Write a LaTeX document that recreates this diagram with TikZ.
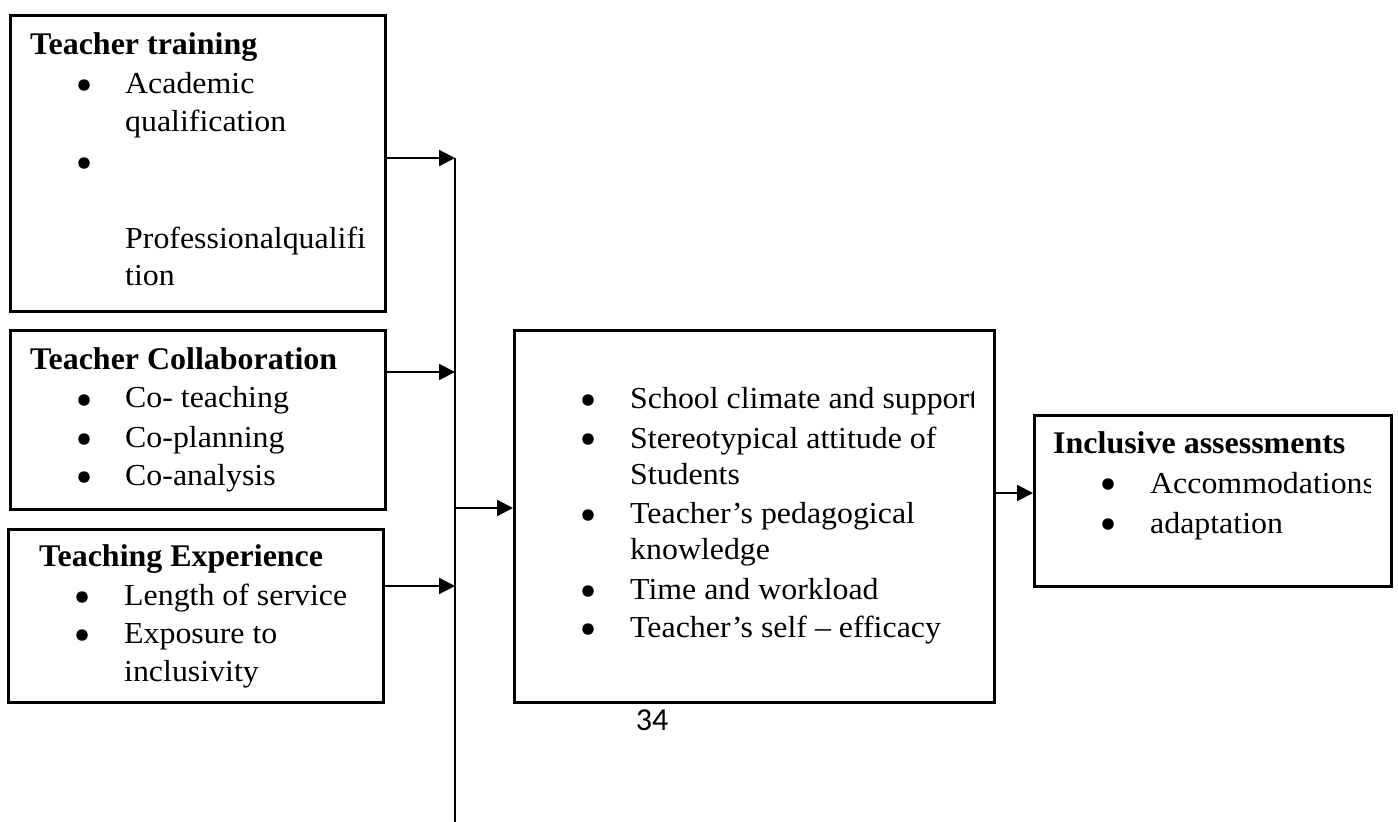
\documentclass[tikz,border=0pt]{standalone}
\usepackage{fontspec}
\setmainfont{Liberation Serif}
\newfontfamily\itemf[FakeStretch=1.045]{Liberation Serif}
\newfontfamily\titlef[FakeStretch=1.015]{Liberation Serif}
\newfontfamily\pagef{Carlito}
\usetikzlibrary{arrows.meta}
\tikzset{
  box/.style={draw, line width=2.5pt, inner sep=0pt, anchor=north west},
  txt/.style={anchor=base west, inner sep=0pt, font=\itemf\fontsize{30.5}{38}\selectfont},
  ttl/.style={anchor=base west, inner sep=0pt, font=\titlef\bfseries\fontsize{31.5}{38}\selectfont},
  bul/.style={circle, fill, inner sep=0pt, minimum size=11.5pt},
  ln/.style={line width=2.2pt},
  arr/.style={line width=2.2pt, -{Triangle[length=16pt,width=16pt]}}
}
\begin{document}
\begin{tikzpicture}[x=1pt, y=-1pt]
\useasboundingbox (0,0) rectangle (1398,822);
% boxes
\node[box, minimum width=375pt, minimum height=296pt] (b1) at (9,14) {};
\node[box, minimum width=375pt, minimum height=179pt] (b2) at (9,329) {};
\node[box, minimum width=375pt, minimum height=173pt] (b3) at (7,528) {};
\node[box, minimum width=480pt, minimum height=372pt] (c) at (513,329) {};
\node[box, minimum width=357pt, minimum height=171pt] (r) at (1033,414) {};
% box 1
\node[ttl] (t1) at (30,54) {Teacher training};
\node[bul] (b1a) at (84,85) {};
\node[txt] (i1a) at (125,93) {Academic};
\node[txt] (i1b) at (125,131) {qualification};
\node[bul] (b1b) at (84,163) {};
\begin{scope}
\clip (0,0) rectangle (365,822);
\node[txt] (i1c) at (125,248) {Professionalqualifica};
\end{scope}
\node[txt] (i1d) at (125,285) {tion};
% box 2
\node[ttl] (t2) at (30,369) {Teacher Collaboration};
\node[bul] (b2a) at (84,400) {};
\node[txt] (i2a) at (125,407) {Co- teaching};
\node[bul] (b2b) at (84,439) {};
\node[txt] (i2b) at (125,447) {Co-planning};
\node[bul] (b2c) at (84,477) {};
\node[txt] (i2c) at (125,485) {Co-analysis};
% box 3
\node[ttl] (t3) at (39,566) {Teaching Experience};
\node[bul] (b3a) at (82,597) {};
\node[txt] (i3a) at (124,605) {Length of service};
\node[bul] (b3b) at (82,635) {};
\node[txt] (i3b) at (124,643) {Exposure to};
\node[txt] (i3c) at (124,681) {inclusivity};
% centre box
\node[bul] (bca) at (588,400) {};
\begin{scope}
\clip (0,0) rectangle (973,822);
\node[txt] (ica) at (630,408) {School climate and support};
\end{scope}
\node[bul] (bcb) at (588,439) {};
\node[txt] (icb) at (630,448) {Stereotypical attitude of};
\node[txt] (icc) at (630,484) {Students};
\node[bul] (bcc) at (588,515) {};
\node[txt] (icd) at (630,523) {Teacher’s pedagogical};
\node[txt] (ice) at (630,559) {knowledge};
\node[bul] (bcd) at (588,591) {};
\node[txt] (icf) at (630,599) {Time and workload};
\node[bul] (bce) at (588,629) {};
\node[txt] (icg) at (630,637) {Teacher’s self – efficacy};
% right box
\node[ttl] (t4) at (1053,453) {Inclusive assessments};
\node[bul] (bra) at (1108,484) {};
\begin{scope}
\clip (0,0) rectangle (1370,822);
\node[txt] (ira) at (1150,493) {Accommodations};
\end{scope}
\node[bul] (brb) at (1108,524) {};
\node[txt] (irb) at (1150,533) {adaptation};
% page number
\node[anchor=base, inner sep=0pt, font=\pagef\fontsize{32}{34}\selectfont] (pg) at (652,730) {34};
% connectors
\coordinate (vtop) at (455,158);
\coordinate (vbot) at (455,822);
\coordinate (j2) at (455,372);
\coordinate (j3) at (455,586);
\coordinate (j4) at (455,508);
\coordinate (j5) at (993,493);
\draw[ln] (vtop) -- (vbot);
\draw[arr] (b1.east |- vtop) -- (vtop);
\draw[arr] (b2.east |- j2) -- (j2);
\draw[arr] (b3.east |- j3) -- (j3);
\draw[arr] (j4) -- (c.west |- j4);
\draw[arr] (c.east |- j5) -- (r.west |- j5);
\end{tikzpicture}
\end{document}
